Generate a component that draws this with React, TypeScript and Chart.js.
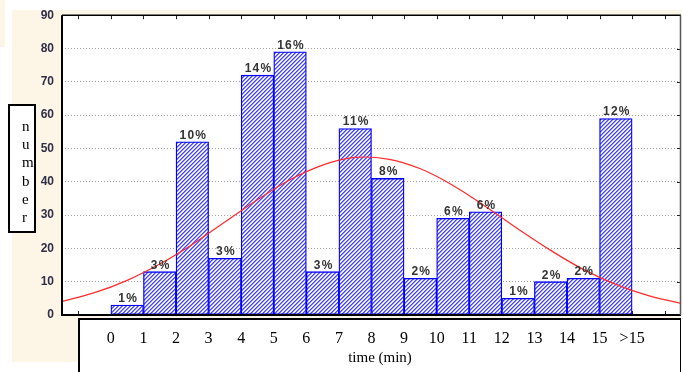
import React, { useEffect, useRef } from 'react';
import { Chart, registerables } from 'chart.js';

Chart.register(...registerables);

// ---- data ----
const BIN_CENTERS = [0.5, 1.5, 2.5, 3.5, 4.5, 5.5, 6.5, 7.5, 8.5, 9.5, 10.5, 11.5, 12.5, 13.5, 14.5, 15.5];
const COUNTS = [3, 13, 52, 17, 72, 79, 13, 56, 41, 11, 29, 31, 5, 10, 11, 59];
const PERCENT_LABELS = ['1%', '3%', '10%', '3%', '14%', '16%', '3%', '11%', '8%', '2%', '6%', '6%', '1%', '2%', '2%', '12%'];
const X_TICK_VALUES = [0, 1, 2, 3, 4, 5, 6, 7, 8, 9, 10, 11, 12, 13, 14, 15, 16];
const X_TICK_LABELS = ['0', '1', '2', '3', '4', '5', '6', '7', '8', '9', '10', '11', '12', '13', '14', '15', '>15'];
const FRAME_TICK_VALUES = [-1, 0, 1, 2, 3, 4, 5, 6, 7, 8, 9, 10, 11, 12, 13, 14, 15, 16, 17];
const Y_MIN = 0;
const Y_MAX = 90;
const Y_STEP = 10;
const CURVE_X = [-1.5, -0.5, 0.5, 1.5, 2.5, 3.5, 4.5, 5.5, 6.5, 7.5, 8.5, 9.5, 10.5, 11.5, 12.5, 13.5, 14.5, 15.5, 16.5, 17.5];
const CURVE_Y = [4.1, 6.7, 10.4, 15.3, 21.2, 27.9, 34.6, 40.6, 45.0, 47.3, 46.8, 43.9, 38.9, 32.6, 25.8, 19.4, 13.7, 9.2, 5.8, 3.5];
const Y_TITLE = 'number';
const X_TITLE = 'time (min)';

const CREAM = '#fdf6e6';
const SERIF = '"Liberation Serif", "Times New Roman", serif';
const SANS = '"Liberation Sans", Arial, sans-serif';

export default function App() {
  const ref = useRef<HTMLCanvasElement>(null);

  useEffect(() => {
    const canvas = ref.current!;
    const pc = document.createElement('canvas');
    pc.width = 4;
    pc.height = 4;
    const p = pc.getContext('2d')!;
    p.fillStyle = '#ffffff';
    p.fillRect(0, 0, 4, 4);
    for (let y = 0; y < 4; y++) {
      p.fillStyle = '#4444ff';
      p.fillRect((3 - y + 4) % 4, y, 1, 1);
      p.fillStyle = '#8a8aff';
      p.fillRect((4 - y + 4) % 4, y, 1, 1);
      p.fillStyle = '#dadaff';
      p.fillRect((2 - y + 4) % 4, y, 1, 1);
    }
    const pattern = canvas.getContext('2d')!.createPattern(pc, 'repeat')!;

    const framePlugin = {
      id: 'frame',
      beforeDraw(chart: any) {
        const { ctx, chartArea: a } = chart;
        ctx.save();
        ctx.fillStyle = '#ffffff';
        ctx.fillRect(0, 0, chart.width, chart.height);
        ctx.fillStyle = CREAM;
        ctx.fillRect(12, 10, a.right - 12, 352);
        ctx.fillRect(0, 0, 5, 47);
        ctx.fillStyle = '#ffffff';
        ctx.fillRect(a.left, a.top, a.right - a.left, a.bottom - a.top);
        // bottom label box
        ctx.fillRect(78, 318, a.right - 78, 60);
        ctx.strokeStyle = '#000';
        ctx.lineWidth = 2;
        ctx.beginPath();
        ctx.moveTo(79, 380);
        ctx.lineTo(79, 319);
        ctx.lineTo(a.right, 319);
        ctx.stroke();
        ctx.lineWidth = 1;
        ctx.beginPath();
        ctx.moveTo(a.right - 0.5, 319);
        ctx.lineTo(a.right - 0.5, 380);
        ctx.stroke();
        // y title box
        ctx.fillStyle = '#ffffff';
        ctx.fillRect(8, 104, 28, 129);
        ctx.lineWidth = 2;
        ctx.strokeRect(9, 105, 26, 127);
        ctx.fillStyle = '#000';
        ctx.font = '15px ' + SERIF;
        ctx.textAlign = 'left';
        ctx.textBaseline = 'alphabetic';
        Y_TITLE.split('').forEach((ch, i) => {
          ctx.fillText(ch, 22, 131 + i * 18.2);
        });
        // x title
        ctx.textAlign = 'center';
        ctx.font = '15px ' + SERIF;
        ctx.fillText(X_TITLE, 380, 362);
        ctx.restore();
      },
      beforeDatasetsDraw(chart: any) {
        const { ctx, chartArea: a, scales } = chart;
        ctx.save();
        ctx.strokeStyle = '#222';
        ctx.lineWidth = 1;
        FRAME_TICK_VALUES.forEach((v) => {
          const x = Math.round(scales.x.getPixelForValue(v)) + 0.5;
          ctx.beginPath();
          ctx.moveTo(x, a.top);
          ctx.lineTo(x, a.top + 4);
          ctx.moveTo(x, a.bottom);
          ctx.lineTo(x, a.bottom - 4);
          ctx.stroke();
        });
        for (let v = Y_MIN + Y_STEP; v < Y_MAX; v += Y_STEP) {
          const y = Math.round(scales.y.getPixelForValue(v)) + 0.5;
          ctx.beginPath();
          ctx.moveTo(a.right, y);
          ctx.lineTo(a.right - 4, y);
          ctx.stroke();
        }
        ctx.restore();
      },
      afterDatasetsDraw(chart: any) {
        const { ctx, chartArea: a } = chart;
        ctx.save();
        // frame borders
        ctx.strokeStyle = '#000';
        ctx.lineWidth = 2;
        ctx.beginPath();
        ctx.moveTo(a.left, a.top);
        ctx.lineTo(a.left, a.bottom);
        ctx.lineTo(a.right, a.bottom);
        ctx.stroke();
        ctx.lineWidth = 1.5;
        ctx.beginPath();
        ctx.moveTo(a.left, a.top);
        ctx.lineTo(a.right, a.top);
        ctx.stroke();
        ctx.strokeStyle = '#555';
        ctx.beginPath();
        ctx.moveTo(a.right - 0.5, a.top);
        ctx.lineTo(a.right - 0.5, a.bottom);
        ctx.stroke();
        // percentage labels
        const meta = chart.getDatasetMeta(1);
        ctx.fillStyle = '#333';
        ctx.font = 'bold 12px ' + SANS;
        (ctx as any).letterSpacing = '1.2px';
        ctx.textAlign = 'center';
        ctx.textBaseline = 'alphabetic';
        meta.data.forEach((el: any, i: number) => {
          ctx.fillText(PERCENT_LABELS[i], el.x + 1, el.y - 3);
        });
        ctx.restore();
      },
    };

    const chart = new Chart(canvas, {
      type: 'bar',
      data: {
        datasets: [
          {
            type: 'line',
            data: CURVE_X.map((x, i) => ({ x, y: CURVE_Y[i] })),
            borderColor: '#ff2a2a',
            borderWidth: 1.2,
            pointRadius: 0,
            tension: 0.4,
            fill: false,
            order: 0,
          } as any,
          {
            type: 'bar',
            data: BIN_CENTERS.map((x, i) => ({ x, y: COUNTS[i] })),
            backgroundColor: pattern as any,
            borderColor: '#0000ff',
            borderWidth: 1.3,
            borderSkipped: false,
            categoryPercentage: 1,
            barPercentage: 1,
            order: 1,
          } as any,
        ],
      },
      options: {
        responsive: false,
        animation: false,
        devicePixelRatio: 1,
        layout: { padding: { left: 0, top: 15, right: 2, bottom: 0 } },
        plugins: { legend: { display: false }, tooltip: { enabled: false } },
        scales: {
          x: {
            type: 'linear',
            min: -1.5,
            max: 17.5,
            offset: false,
            afterBuildTicks: (s: any) => {
              s.ticks = X_TICK_VALUES.map((v) => ({ value: v }));
            },
            afterFit: (s: any) => {
              s.height = 57;
            },
            grid: { display: false, drawTicks: false, offset: false },
            border: { display: false },
            ticks: {
              autoSkip: false,
              maxRotation: 0,
              padding: 14,
              color: '#000',
              font: { family: SERIF, size: 16 },
              callback: (_v: any, i: number) => X_TICK_LABELS[i],
            },
          },
          y: {
            min: Y_MIN,
            max: Y_MAX,
            afterFit: (s: any) => {
              s.width = 62;
            },
            grid: {
              drawTicks: false,
              color: (c: any) =>
                c.tick && (c.tick.value === Y_MIN || c.tick.value === Y_MAX) ? 'rgba(0,0,0,0)' : '#a0a0a0',
            },
            border: { display: false, dash: [1, 2] },
            ticks: {
              stepSize: Y_STEP,
              padding: 8,
              color: '#2e2e48',
              font: { family: SANS, size: 12, weight: 'bold' },
            },
          },
        },
      } as any,
      plugins: [framePlugin],
    });
    return () => chart.destroy();
  }, []);

  return (
    <div style={{ position: 'fixed', left: 0, top: 0, width: 683, height: 372 }}>
      <canvas ref={ref} width={683} height={372} style={{ display: 'block', width: 683, height: 372 }} />
    </div>
  );
}
